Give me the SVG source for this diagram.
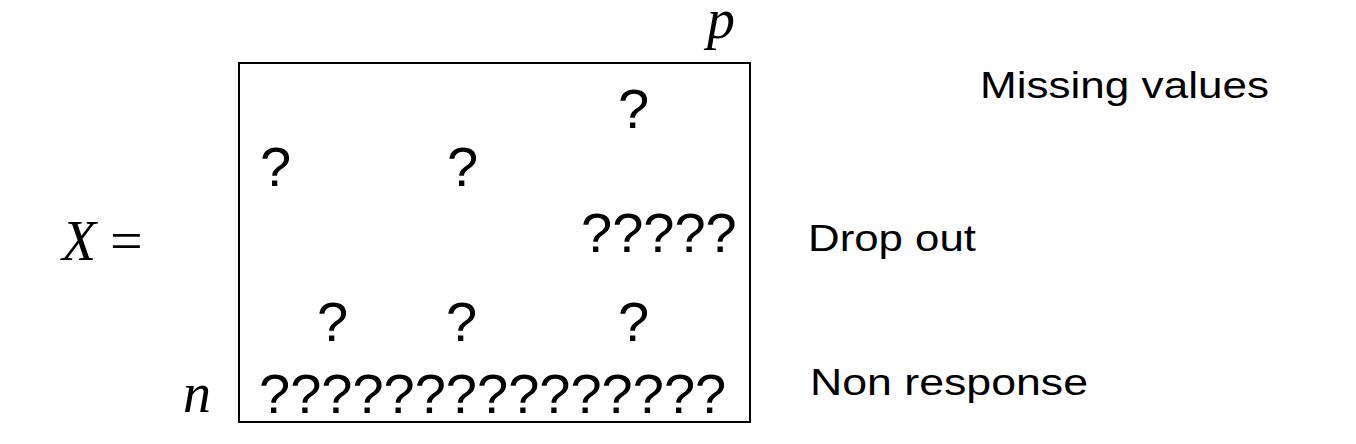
<svg xmlns="http://www.w3.org/2000/svg" width="1356" height="444" viewBox="0 0 1356 444">
<style>
.q{font-family:"Liberation Sans",Arial,sans-serif;font-size:56px;fill:#000}
.lbl{font-family:"Liberation Sans",Arial,sans-serif;font-size:37.5px;fill:#000}
.math{font-family:"Liberation Serif","Times New Roman",serif;font-size:56px;font-style:italic;fill:#000}
</style>
<rect width="1356" height="444" fill="#fff"/>
<g id="matrix">
<rect x="239" y="63" width="511" height="359" fill="none" stroke="#000" stroke-width="2"/>
<text class="q" x="618" y="128">?</text>
<text class="q" x="260" y="186">?</text>
<text class="q" x="447" y="186">?</text>
<text class="q" x="581" y="252">?????</text>
<text class="q" x="317" y="341">?</text>
<text class="q" x="446" y="341">?</text>
<text class="q" x="618" y="341">?</text>
<text class="q" x="259" y="413">???????????????</text>
</g>
<g id="math-labels">
<text class="math" x="62" y="260" font-size="60">X<tspan x="110" font-style="normal" font-size="58">=</tspan></text>
<text class="math" x="707" y="38">p</text>
<text class="math" x="183" y="412">n</text>
</g>
<g id="row-labels">
<text class="lbl" x="980" y="98" textLength="289" lengthAdjust="spacingAndGlyphs">Missing values</text>
<text class="lbl" x="808" y="251" textLength="168" lengthAdjust="spacingAndGlyphs">Drop out</text>
<text class="lbl" x="810" y="395" textLength="278" lengthAdjust="spacingAndGlyphs">Non response</text>
</g>
</svg>
